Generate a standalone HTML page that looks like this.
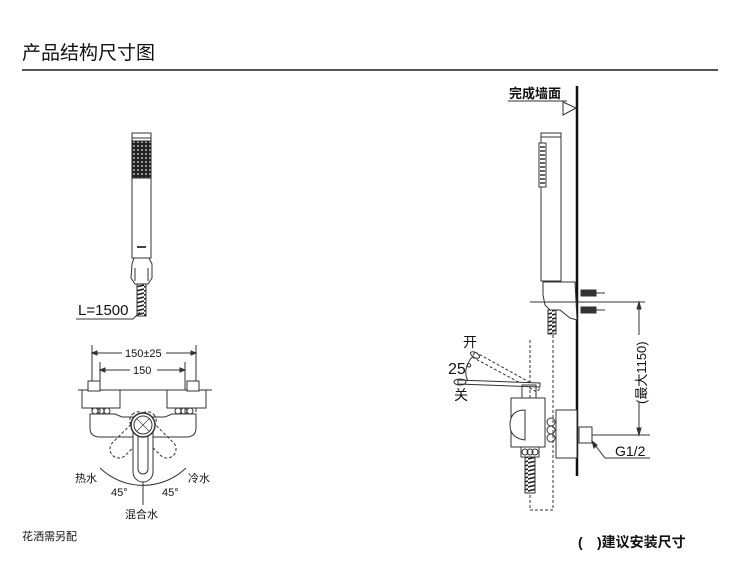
<!DOCTYPE html>
<html><head><meta charset="utf-8"><style>
html,body{margin:0;padding:0;background:#fff;}
svg{display:block;}
text{font-family:"Liberation Sans","Noto Sans CJK SC",sans-serif;fill:#111;}
</style></head><body>
<svg width="750" height="563" viewBox="0 0 750 563" xmlns="http://www.w3.org/2000/svg">
<defs>
<pattern id="dots" width="4" height="4" patternUnits="userSpaceOnUse"><rect width="4" height="4" fill="#222"/><circle cx="2" cy="2" r="1" fill="#bbb"/></pattern>
<pattern id="hose" width="8" height="4" patternUnits="userSpaceOnUse"><rect width="8" height="4" fill="#fff"/><path d="M0 3 L8 1" stroke="#222" stroke-width="1.6"/></pattern>
</defs>
<text x="22" y="59" font-size="19">产品结构尺寸图</text>
<rect x="22" y="69" width="696" height="2" fill="#555"/>

<g stroke="#333" fill="none" stroke-width="1">
<rect x="132" y="133" width="19" height="125" fill="#fff"/>
<line x1="132" y1="138" x2="151" y2="138"/>
<rect x="132" y="141" width="19" height="37" fill="url(#dots)" stroke="#222"/>
<rect x="137" y="246" width="9" height="2" fill="#444" stroke="none"/>
<path d="M132 264 L134 258 L149 258 L152 264 L152 278 L148 284 L135 284 L131 278 Z" fill="#fff"/>
<path d="M135 268 L135 281 M148 268 L148 281"/>
<rect x="137" y="284" width="9" height="32" fill="url(#hose)" stroke="#333"/>
<path d="M76 319 L133 319 L140 312"/>
</g>
<text x="78" y="315" font-size="15">L=1500</text>

<g stroke="#333" fill="none" stroke-width="1">
<line x1="92" y1="345" x2="92" y2="412"/><line x1="196" y1="345" x2="196" y2="412"/>
<line x1="100" y1="362" x2="100" y2="420"/><line x1="185" y1="362" x2="185" y2="420"/>
<line x1="92" y1="353" x2="122" y2="353"/><line x1="166" y1="353" x2="196" y2="353"/>
<line x1="100" y1="370" x2="130" y2="370"/><line x1="157" y1="370" x2="185" y2="370"/>
<path d="M92 353 l5 -2 v4 z M196 353 l-5 -2 v4 z M100 370 l5 -2 v4 z M185 370 l-5 -2 v4 z" fill="#333"/>
<line x1="78" y1="390" x2="212" y2="390"/>
<rect x="82" y="390" width="38" height="18" fill="#fff"/>
<rect x="167" y="390" width="39" height="18" fill="#fff"/>
<rect x="88" y="381" width="12" height="10" fill="#fff"/>
<rect x="187" y="381" width="12" height="10" fill="#fff"/>
<circle cx="95" cy="411" r="3"/><circle cx="101" cy="411" r="3"/><circle cx="107" cy="411" r="3"/>
<circle cx="178" cy="411" r="3"/><circle cx="184" cy="411" r="3"/><circle cx="190" cy="411" r="3"/>
<path d="M90 414 L90 428 Q90 437 100 437 L186 437 Q196 437 196 428 L196 414 L172 414 L165 417 L122 417 L115 414 Z" fill="#fff"/>
<g stroke-dasharray="3,2">
<rect x="134" y="410" width="18" height="58" rx="9" transform="rotate(45 143 425)"/>
<rect x="134" y="410" width="18" height="58" rx="9" transform="rotate(-45 143 425)"/>
</g>
<rect x="133" y="422" width="20" height="60" rx="10" fill="#fff"/>
<rect x="138" y="430" width="10" height="44" rx="5"/>
<circle cx="143" cy="425" r="12" fill="#fff" stroke-width="1.5"/>
<circle cx="143" cy="425" r="9"/>
<path d="M137 419 L149 431 M149 419 L137 431" stroke-width="0.6"/>
<path d="M100 468 A62 62 0 0 0 186 468" style="fill:none;stroke:#333;stroke-width:1"/>
<line x1="143" y1="482" x2="143" y2="505"/>
</g>
<text x="125" y="357" font-size="11">150±25</text>
<text x="133" y="374" font-size="11">150</text>
<text x="75" y="482" font-size="11">热水</text>
<text x="188" y="482" font-size="11">冷水</text>
<text x="111" y="496" font-size="11">45°</text>
<text x="162" y="496" font-size="11">45°</text>
<text x="125" y="518" font-size="11">混合水</text>
<text x="22" y="540" font-size="11">花洒需另配</text>

<g stroke="#333" fill="none" stroke-width="1">
<line x1="577" y1="86" x2="577" y2="476" stroke="#111" stroke-width="2.5"/>
<line x1="508" y1="101" x2="567" y2="101"/>
<path d="M563 102 L576 108 L563 115 Z" fill="#fff"/>
<rect x="541" y="133" width="20" height="148" fill="#fff"/>
<line x1="541" y1="137" x2="561" y2="137"/>
<rect x="539" y="143" width="7" height="44" fill="#fff"/>
<path d="M540 147 h5 M540 151 h5 M540 155 h5 M540 159 h5 M540 163 h5 M540 167 h5 M540 171 h5 M540 175 h5 M540 179 h5 M540 183 h5" stroke-width="1.5"/>
<path d="M543 282 L575 282 L577 320 L570 318 L560 310 L550 310 L545 305 L543 295 Z" fill="#fff"/>
<rect x="581" y="290" width="15" height="6" fill="#333"/>
<rect x="581" y="307" width="15" height="6" fill="#333"/>
<line x1="596" y1="293" x2="605" y2="293"/><line x1="596" y1="310" x2="605" y2="310"/>
<line x1="530" y1="302" x2="645" y2="302"/>
<line x1="590" y1="435" x2="650" y2="435"/>
<line x1="639" y1="304" x2="639" y2="335"/><line x1="639" y1="402" x2="639" y2="433"/>
<path d="M639 302 l-2 7 h4 z M639 435 l-2 -7 h4 z" fill="#333"/>
<rect x="548" y="310" width="8" height="24" fill="url(#hose)"/>
<path d="M530 340 L530 510 L553 510 L553 320" stroke-dasharray="3,2"/>
<g stroke-dasharray="3,2">
<path d="M475 352 L540 388 L537 392 L472 357 Z"/>
</g>
<ellipse cx="475" cy="355" rx="5" ry="2.5" transform="rotate(30 475 355)"/>
<path d="M458 380 L540 383 L540 387 L458 384 Z" fill="#fff"/>
<ellipse cx="460" cy="382" rx="6" ry="3"/>
<path d="M472 357 Q462 370 468 381"/>
<rect x="522" y="385" width="14" height="13"/>
<rect x="511" y="398" width="34" height="49" fill="#fff"/>
<path d="M525 410 Q510 410 510 425 Q510 438 525 440 Z" fill="#fff"/>
<circle cx="551" cy="422" r="4"/><circle cx="551" cy="430" r="4"/><circle cx="551" cy="438" r="4"/>
<rect x="556" y="410" width="21" height="48" fill="#fff"/>
<rect x="579" y="427" width="13" height="16" fill="#fff"/>
<path d="M592 441 L605 458 L650 458"/>
<path d="M592 441 l2 7 l3 -3 z" fill="#333"/>
<rect x="521" y="447" width="18" height="10" fill="#fff"/>
<circle cx="525" cy="452" r="3"/><circle cx="530" cy="452" r="3"/><circle cx="535" cy="452" r="3"/>
<rect x="525" y="457" width="10" height="36" fill="url(#hose)"/>
</g>
<text x="509" y="98" font-size="13" font-weight="bold">完成墙面</text>
<text x="463" y="347" font-size="14">开</text>
<text x="448" y="374" font-size="16">25°</text>
<text x="454" y="400" font-size="14">关</text>
<text x="615" y="456" font-size="14">G1/2</text>
<text x="0" y="0" font-size="13" transform="translate(646 404) rotate(-90)">(最大1150)</text>
<text x="578" y="547" font-size="14" font-weight="bold">(</text>
<text x="597" y="547" font-size="14" font-weight="bold">)建议安装尺寸</text>
</svg>
</body></html>
